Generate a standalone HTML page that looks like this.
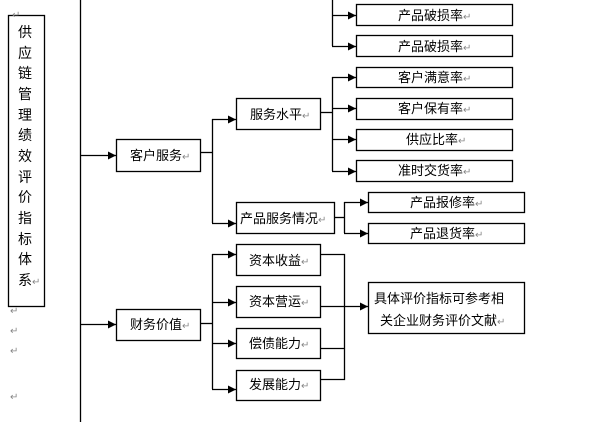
<!DOCTYPE html>
<html><head><meta charset="utf-8"><style>
body{margin:0;background:#fff;}
svg text{font-family:"Liberation Sans","Noto Sans CJK SC","WenQuanYi Zen Hei",sans-serif;font-size:13px;fill:#000;}
.p{fill:#888;font-size:10px;}
.v{font-size:14px;}
</style></head><body>
<svg width="610" height="422" viewBox="0 0 610 422" xmlns="http://www.w3.org/2000/svg">
<defs><marker id="a" viewBox="0 0 10 10" refX="10" refY="5" markerWidth="8" markerHeight="8" markerUnits="userSpaceOnUse" orient="auto"><path d="M0,0L10,5L0,10z" fill="#000"/></marker></defs>
<g fill="none" stroke="#000" stroke-width="1.3">
<rect x="8.5" y="15.5" width="36" height="291"/>
<line x1="80.5" y1="0" x2="80.5" y2="422"/>
<rect x="116.5" y="139.5" width="84" height="32"/>
<rect x="116.5" y="309.5" width="84" height="31"/>
<rect x="236.5" y="98.5" width="84" height="31"/>
<rect x="236.5" y="202.5" width="98" height="31"/>
<rect x="356.5" y="4.5" width="156" height="21"/>
<rect x="356.5" y="35.5" width="156" height="21"/>
<rect x="356.5" y="67.5" width="156" height="20"/>
<rect x="356.5" y="98.5" width="156" height="21"/>
<rect x="356.5" y="129.5" width="156" height="21"/>
<rect x="356.5" y="160.5" width="156" height="21"/>
<rect x="368.5" y="192.5" width="156" height="20"/>
<rect x="368.5" y="223.5" width="156" height="20"/>
<rect x="236.5" y="244.5" width="84" height="31"/>
<rect x="236.5" y="286.5" width="84" height="31"/>
<rect x="236.5" y="328.5" width="84" height="30"/>
<rect x="236.5" y="370.5" width="84" height="30"/>
<rect x="368.5" y="282.5" width="156" height="51"/>
<line x1="80" y1="155.5" x2="116" y2="155.5" marker-end="url(#a)"/>
<line x1="80" y1="324.5" x2="116" y2="324.5" marker-end="url(#a)"/>
<polyline points="200,152.5 212.5,152.5"/>
<polyline points="212.5,119 212.5,223"/>
<line x1="212" y1="119.5" x2="236" y2="119.5" marker-end="url(#a)"/>
<line x1="212" y1="223.5" x2="236" y2="223.5" marker-end="url(#a)"/>
<polyline points="332.5,0 332.5,46"/>
<line x1="332" y1="15.5" x2="356" y2="15.5" marker-end="url(#a)"/>
<line x1="332" y1="46.5" x2="356" y2="46.5" marker-end="url(#a)"/>
<line x1="320" y1="112.5" x2="332.5" y2="112.5"/>
<polyline points="332.5,77 332.5,171"/>
<line x1="332" y1="77.5" x2="356" y2="77.5" marker-end="url(#a)"/>
<line x1="332" y1="108.5" x2="356" y2="108.5" marker-end="url(#a)"/>
<line x1="332" y1="139.5" x2="356" y2="139.5" marker-end="url(#a)"/>
<line x1="332" y1="171.5" x2="356" y2="171.5" marker-end="url(#a)"/>
<line x1="334" y1="217.5" x2="344.5" y2="217.5"/>
<polyline points="344.5,202 344.5,233"/>
<line x1="344" y1="202.5" x2="368" y2="202.5" marker-end="url(#a)"/>
<line x1="344" y1="233.5" x2="368" y2="233.5" marker-end="url(#a)"/>
<line x1="200" y1="323.5" x2="212.5" y2="323.5"/>
<polyline points="212.5,254 212.5,389"/>
<line x1="212" y1="254.5" x2="236" y2="254.5" marker-end="url(#a)"/>
<line x1="212" y1="302.5" x2="236" y2="302.5" marker-end="url(#a)"/>
<line x1="212" y1="343.5" x2="236" y2="343.5" marker-end="url(#a)"/>
<line x1="212" y1="389.5" x2="236" y2="389.5" marker-end="url(#a)"/>
<polyline points="320,254.5 344.5,254.5 344.5,379.5 320,379.5"/>
<line x1="320" y1="348.5" x2="344.5" y2="348.5"/>
<line x1="320" y1="306.5" x2="368" y2="306.5" marker-end="url(#a)"/>
</g>
<text class="v" x="18" y="37">供</text>
<text class="v" x="18" y="58">应</text>
<text class="v" x="18" y="78">链</text>
<text class="v" x="18" y="99">管</text>
<text class="v" x="18" y="120">理</text>
<text class="v" x="18" y="140">绩</text>
<text class="v" x="18" y="161">效</text>
<text class="v" x="18" y="182">评</text>
<text class="v" x="18" y="202">价</text>
<text class="v" x="18" y="223">指</text>
<text class="v" x="18" y="244">标</text>
<text class="v" x="18" y="264">体</text>
<text class="v" x="18" y="285">系<tspan class="p">↵</tspan></text>
<text x="130" y="160">客户服务<tspan class="p">↵</tspan></text>
<text x="130" y="329">财务价值<tspan class="p">↵</tspan></text>
<text x="250" y="119">服务水平<tspan class="p">↵</tspan></text>
<text x="240" y="223">产品服务情况<tspan class="p">↵</tspan></text>
<text x="398" y="20">产品破损率<tspan class="p">↵</tspan></text>
<text x="398" y="51">产品破损率<tspan class="p">↵</tspan></text>
<text x="398" y="82">客户满意率<tspan class="p">↵</tspan></text>
<text x="398" y="113">客户保有率<tspan class="p">↵</tspan></text>
<text x="406" y="144">供应比率<tspan class="p">↵</tspan></text>
<text x="398" y="175">准时交货率<tspan class="p">↵</tspan></text>
<text x="410" y="207">产品报修率<tspan class="p">↵</tspan></text>
<text x="410" y="238">产品退货率<tspan class="p">↵</tspan></text>
<text x="249" y="265">资本收益<tspan class="p">↵</tspan></text>
<text x="249" y="306">资本营运<tspan class="p">↵</tspan></text>
<text x="249" y="348">偿债能力<tspan class="p">↵</tspan></text>
<text x="249" y="389">发展能力<tspan class="p">↵</tspan></text>
<text x="374" y="303">具体评价指标可参考相</text>
<text x="380" y="325">关企业财务评价文献<tspan class="p">↵</tspan></text>
<text class="p" x="10" y="314">↵</text>
<text class="p" x="10" y="334">↵</text>
<text class="p" x="10" y="354">↵</text>
<text class="p" x="10" y="400">↵</text>
<text class="p" x="12" y="18">↵</text>
</svg>
</body></html>
